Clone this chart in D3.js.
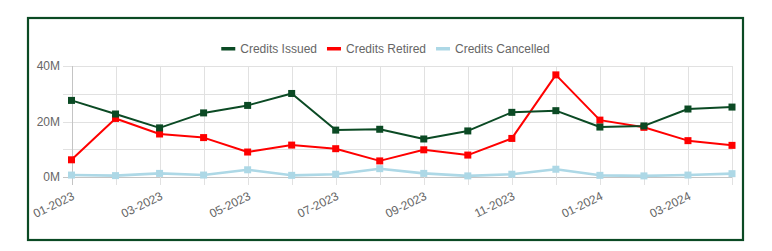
<!DOCTYPE html>
<html>
<head>
<meta charset="utf-8">
<script src="https://cdn.jsdelivr.net/npm/d3@7"></script>
<style>
  html, body { margin: 0; padding: 0; background: #fff; }
  svg { display: block; font-family: "Liberation Sans", Arial, sans-serif; }
</style>
</head>
<body>
<svg id="chart" width="772" height="251"></svg>
<script>
const months = ["01-2023","02-2023","03-2023","04-2023","05-2023","06-2023","07-2023","08-2023",
                "09-2023","10-2023","11-2023","12-2023","01-2024","02-2024","03-2024","04-2024"];
const issued =    [27.6, 22.7, 17.7, 23.1, 25.8, 30.1, 16.9, 17.2, 13.7, 16.6, 23.3, 23.9, 18.0, 18.4, 24.5, 25.2];
const retired =   [6.2, 21.1, 15.5, 14.2, 9.0, 11.5, 10.2, 5.8, 9.8, 7.9, 13.9, 36.8, 20.5, 17.9, 13.1, 11.4];
const cancelled = [0.7, 0.5, 1.3, 0.7, 2.6, 0.6, 1.0, 3.0, 1.3, 0.4, 1.0, 2.8, 0.6, 0.4, 0.7, 1.2];
const seriesNames = ["Credits Issued", "Credits Retired", "Credits Cancelled"];
const seriesColors = ["#0b4a24", "#ff0000", "#add8e6"];
const yTicks = [0, 10, 20, 30, 40];
const yLabelTicks = [0, 20, 40];

const svg = d3.select("#chart");
const green = "#0b4a24";

svg.append("rect").attr("x", 28).attr("y", 18).attr("width", 715).attr("height", 222)
  .attr("fill", "none").attr("stroke", green).attr("stroke-width", 2.2);

const x = d3.scalePoint().domain(months).range([71.5, 732]);
const y = d3.scaleLinear().domain([0, 40]).range([177, 66]);

// gridlines
const grid = svg.append("g");
grid.selectAll(".hg").data(yTicks).enter().append("line")
  .attr("x1", 63).attr("x2", 732).attr("y1", d => Math.round(y(d)) + 0.5).attr("y2", d => Math.round(y(d)) + 0.5)
  .attr("stroke", d => d === 0 ? "#c4c4c4" : "#e1e1e1").attr("stroke-width", 1);
grid.selectAll(".vg").data(months).enter().append("line")
  .attr("x1", d => Math.round(x(d)) + 0.5).attr("x2", d => Math.round(x(d)) + 0.5)
  .attr("y1", 66).attr("y2", 185)
  .attr("stroke", (d, i) => i === 0 ? "#c4c4c4" : "#e1e1e1").attr("stroke-width", 1);

// y labels
svg.append("g").selectAll("text").data(yLabelTicks).enter().append("text")
  .attr("x", 60).attr("y", d => y(d)).attr("dy", "0.35em")
  .attr("text-anchor", "end").attr("font-size", 12).attr("fill", "#666")
  .text(d => d + "M");

// x labels
svg.append("g").selectAll("text").data(months.filter((m, i) => i % 2 === 0)).enter().append("text")
  .attr("transform", d => `translate(${x(d) + 2},${195}) rotate(-26)`)
  .attr("dy", "0.35em").attr("text-anchor", "end").attr("font-size", 12).attr("fill", "#666")
  .text(d => d);

// series
const data = [issued, retired, cancelled];
const line = d3.line().x((d, i) => x(months[i])).y(d => y(d));
const order = [2, 1, 0];
order.forEach(k => {
  const g = svg.append("g");
  g.append("path").datum(data[k]).attr("d", line).attr("fill", "none")
    .attr("stroke", seriesColors[k]).attr("stroke-width", k === 2 ? 2.6 : 2).attr("stroke-linejoin", "round");
  g.selectAll("rect").data(data[k]).enter().append("rect")
    .attr("x", (d, i) => x(months[i]) - 3.5).attr("y", d => y(d) - 3.5)
    .attr("width", 7).attr("height", 7).attr("fill", seriesColors[k]);
});

// legend
const leg = svg.append("g");
const items = [];
seriesNames.forEach((name, i) => {
  const it = leg.append("g");
  it.append("rect").attr("x", 0).attr("y", -1.5).attr("width", 14).attr("height", 3.5).attr("fill", seriesColors[i]);
  const t = it.append("text").attr("x", 19).attr("y", 0).attr("dy", "0.35em")
    .attr("font-size", 12).attr("fill", "#666").text(name);
  const w = 19 + t.node().getComputedTextLength();
  items.push({it, w});
});
const gap = 10;
const total = items.reduce((s, o) => s + o.w, 0) + gap * (items.length - 1);
let start = 385.5 - total / 2;
items.forEach(o => { o.it.attr("transform", `translate(${start},48.5)`); start += o.w + gap; });
</script>
</body>
</html>
